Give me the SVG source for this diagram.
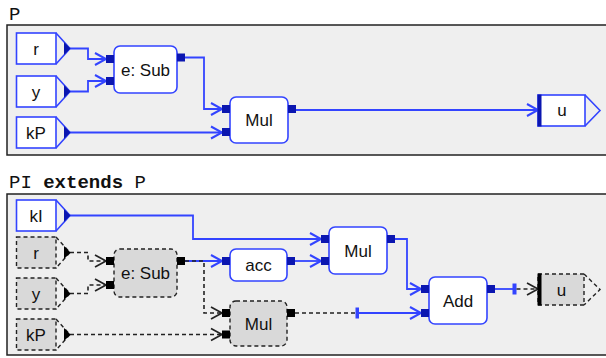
<svg xmlns="http://www.w3.org/2000/svg" width="606" height="358" viewBox="0 0 606 358">
<defs>
<style>
.panel{fill:#efefef;stroke:#222;stroke-width:1.5}
.title{font-family:"Liberation Mono",monospace;font-size:19px;fill:#111}
.lbl{font-family:"Liberation Sans",Arial,sans-serif;font-size:17px;fill:#111;text-anchor:middle}
.bx{fill:#fff;stroke:#3344ff;stroke-width:1.6}
.bxd{fill:#d9d9d9;stroke:#222;stroke-width:1.4;stroke-dasharray:4 3}
.tri{fill:none;stroke:#3344ff;stroke-width:1.6}
.trid{fill:none;stroke:#222;stroke-width:1.4;stroke-dasharray:4 3}
.pb{fill:#0b16b0}
.pk{fill:#000}
.cb{fill:none;stroke:#3344ff;stroke-width:1.8}
.ck{fill:none;stroke:#222;stroke-width:1.6;stroke-dasharray:4 3}
</style>
<marker id="ab" markerUnits="userSpaceOnUse" markerWidth="16" markerHeight="16" refX="13" refY="8" orient="auto" overflow="visible">
<path d="M2,2 L13,8 L2,14" fill="none" stroke="#3344ff" stroke-width="2"/>
</marker>
<marker id="ak" markerUnits="userSpaceOnUse" markerWidth="16" markerHeight="16" refX="13" refY="8" orient="auto" overflow="visible">
<path d="M2,2 L13,8 L2,14" fill="none" stroke="#222" stroke-width="1.7"/>
</marker>
</defs>

<g id="panelP">
<rect class="panel" x="7" y="25" width="620" height="130"/>
<text class="title" x="9" y="20">P</text>
</g>
<g id="panelPI">
<rect class="panel" x="7" y="194" width="620" height="161"/>
<text class="title" x="9" y="188">PI <tspan font-weight="bold">extends</tspan> P</text>
</g>

<g id="connectors">
<!-- top -->
<path class="cb" d="M70,48.5 H88 V59 H106" marker-end="url(#ab)"/>
<path class="cb" d="M70,91.5 H88 V81 H106" marker-end="url(#ab)"/>
<path class="cb" d="M185,57.5 H204 V109 H222" marker-end="url(#ab)"/>
<path class="cb" d="M70,132.5 H222" marker-end="url(#ab)"/>
<path class="cb" d="M295,110 H538" marker-end="url(#ab)"/>
<!-- bottom -->
<path class="cb" d="M70,215.5 H193 V239 H321" marker-end="url(#ab)"/>
<path class="ck" d="M70,252.5 H88 V261 H106" marker-end="url(#ak)"/>
<path class="ck" d="M70,293.5 H88 V285 H106" marker-end="url(#ak)"/>
<path class="cb" d="M185,261 H222" marker-end="url(#ab)"/>
<path class="ck" d="M185,261 H204 V313 H222" marker-end="url(#ak)"/>
<path class="ck" d="M70,334.5 H222" marker-end="url(#ak)"/>
<path class="cb" d="M295,261 H321" marker-end="url(#ab)"/>
<path class="cb" d="M395,239 H407 V289 H421" marker-end="url(#ab)"/>
<path class="ck" d="M295,313 H357"/>
<path class="cb" d="M357,313 H421" marker-end="url(#ab)"/>
<rect x="355.5" y="307.5" width="3.5" height="11" fill="#3344ff"/>
<path class="cb" d="M495,289 H515"/>
<rect x="512.5" y="283.5" width="4" height="11" fill="#3344ff"/>
<path class="ck" d="M516.5,289 H538" marker-end="url(#ak)"/>
</g>

<!-- top nodes -->
<g id="P_r">
<rect class="bx" x="16.5" y="33" width="39.5" height="31"/>
<path class="tri" d="M56,33 L70,48.5 L56,64"/>
<path class="pb" d="M64,42 L70.5,48.5 L64,55 Z"/>
<text class="lbl" x="36" y="54.5">r</text>
</g>
<g id="P_y">
<rect class="bx" x="16.5" y="76" width="39.5" height="31"/>
<path class="tri" d="M56,76 L70,91.5 L56,107"/>
<path class="pb" d="M64,85 L70.5,91.5 L64,98 Z"/>
<text class="lbl" x="36" y="97.5">y</text>
</g>
<g id="P_kP">
<rect class="bx" x="16.5" y="117" width="39.5" height="31"/>
<path class="tri" d="M56,117 L70,132.5 L56,148"/>
<path class="pb" d="M64,126 L70.5,132.5 L64,139 Z"/>
<text class="lbl" x="36" y="138.5">kP</text>
</g>
<g id="P_sub">
<rect class="bx" x="114" y="46" width="63" height="47" rx="6"/>
<rect class="pb" x="106" y="55" width="8" height="8"/>
<rect class="pb" x="106" y="77" width="8" height="8"/>
<rect class="pb" x="177" y="53.5" width="8" height="8"/>
<text class="lbl" x="145.5" y="76">e: Sub</text>
</g>
<g id="P_mul">
<rect class="bx" x="230" y="97" width="58" height="46" rx="6"/>
<rect class="pb" x="222" y="105" width="8" height="8"/>
<rect class="pb" x="222" y="128" width="8" height="8"/>
<rect class="pb" x="288" y="105" width="8" height="8"/>
<text class="lbl" x="259" y="126">Mul</text>
</g>
<g id="P_u">
<rect class="bx" x="538" y="95" width="47" height="31"/>
<path class="tri" d="M585,95 L600,110.5 L585,126"/>
<rect class="pb" x="537.5" y="94.5" width="4" height="32"/>
<text class="lbl" x="562" y="116">u</text>
</g>

<!-- bottom nodes -->
<g id="PI_kI">
<rect class="bx" x="16.5" y="200" width="39.5" height="31"/>
<path class="tri" d="M56,200 L70,215.5 L56,231"/>
<path class="pb" d="M64,209 L70.5,215.5 L64,222 Z"/>
<text class="lbl" x="36" y="221.5">kI</text>
</g>
<g id="PI_r">
<rect class="bxd" x="16.5" y="237" width="39.5" height="31"/>
<path class="trid" d="M56,237 L70,252.5 L56,268"/>
<path class="pk" d="M64,246 L70.5,252.5 L64,259 Z"/>
<text class="lbl" x="36" y="258.5">r</text>
</g>
<g id="PI_y">
<rect class="bxd" x="16.5" y="278" width="39.5" height="31"/>
<path class="trid" d="M56,278 L70,293.5 L56,309"/>
<path class="pk" d="M64,287 L70.5,293.5 L64,300 Z"/>
<text class="lbl" x="36" y="299.5">y</text>
</g>
<g id="PI_kP">
<rect class="bxd" x="16.5" y="319" width="39.5" height="31"/>
<path class="trid" d="M56,319 L70,334.5 L56,350"/>
<path class="pk" d="M64,328 L70.5,334.5 L64,341 Z"/>
<text class="lbl" x="36" y="340.5">kP</text>
</g>
<g id="PI_sub">
<rect class="bxd" x="114" y="249" width="63" height="48" rx="6"/>
<rect class="pk" x="106" y="257" width="8" height="8"/>
<rect class="pk" x="106" y="281" width="8" height="8"/>
<rect class="pk" x="177" y="257" width="8" height="8"/>
<text class="lbl" x="145.5" y="279">e: Sub</text>
</g>
<g id="PI_acc">
<rect class="bx" x="230" y="249" width="57" height="32" rx="6"/>
<rect class="pb" x="222" y="257" width="8" height="8"/>
<rect class="pb" x="287" y="257" width="8" height="8"/>
<text class="lbl" x="258.5" y="271">acc</text>
</g>
<g id="PI_mulP">
<rect class="bxd" x="230" y="301" width="57" height="45" rx="6"/>
<rect class="pk" x="222" y="309" width="8" height="8"/>
<rect class="pk" x="222" y="330.5" width="8" height="8"/>
<rect class="pk" x="287" y="309" width="8" height="8"/>
<text class="lbl" x="258.5" y="329.5">Mul</text>
</g>
<g id="PI_mulI">
<rect class="bx" x="329" y="227" width="58" height="47" rx="6"/>
<rect class="pb" x="321" y="235" width="8" height="8"/>
<rect class="pb" x="321" y="257" width="8" height="8"/>
<rect class="pb" x="387" y="235" width="8" height="8"/>
<text class="lbl" x="358" y="256.5">Mul</text>
</g>
<g id="PI_add">
<rect class="bx" x="429" y="277" width="58" height="47" rx="6"/>
<rect class="pb" x="421" y="285" width="8" height="8"/>
<rect class="pb" x="421" y="309" width="8" height="8"/>
<rect class="pb" x="487" y="285" width="8" height="8"/>
<text class="lbl" x="458" y="306.5">Add</text>
</g>
<g id="PI_u">
<rect class="bxd" x="538" y="274" width="46" height="31"/>
<path class="trid" d="M584,274 L600,289.5 L584,305"/>
<rect x="537.5" y="273.5" width="4" height="32" fill="#000"/>
<text class="lbl" x="561.5" y="295.5">u</text>
</g>
</svg>
